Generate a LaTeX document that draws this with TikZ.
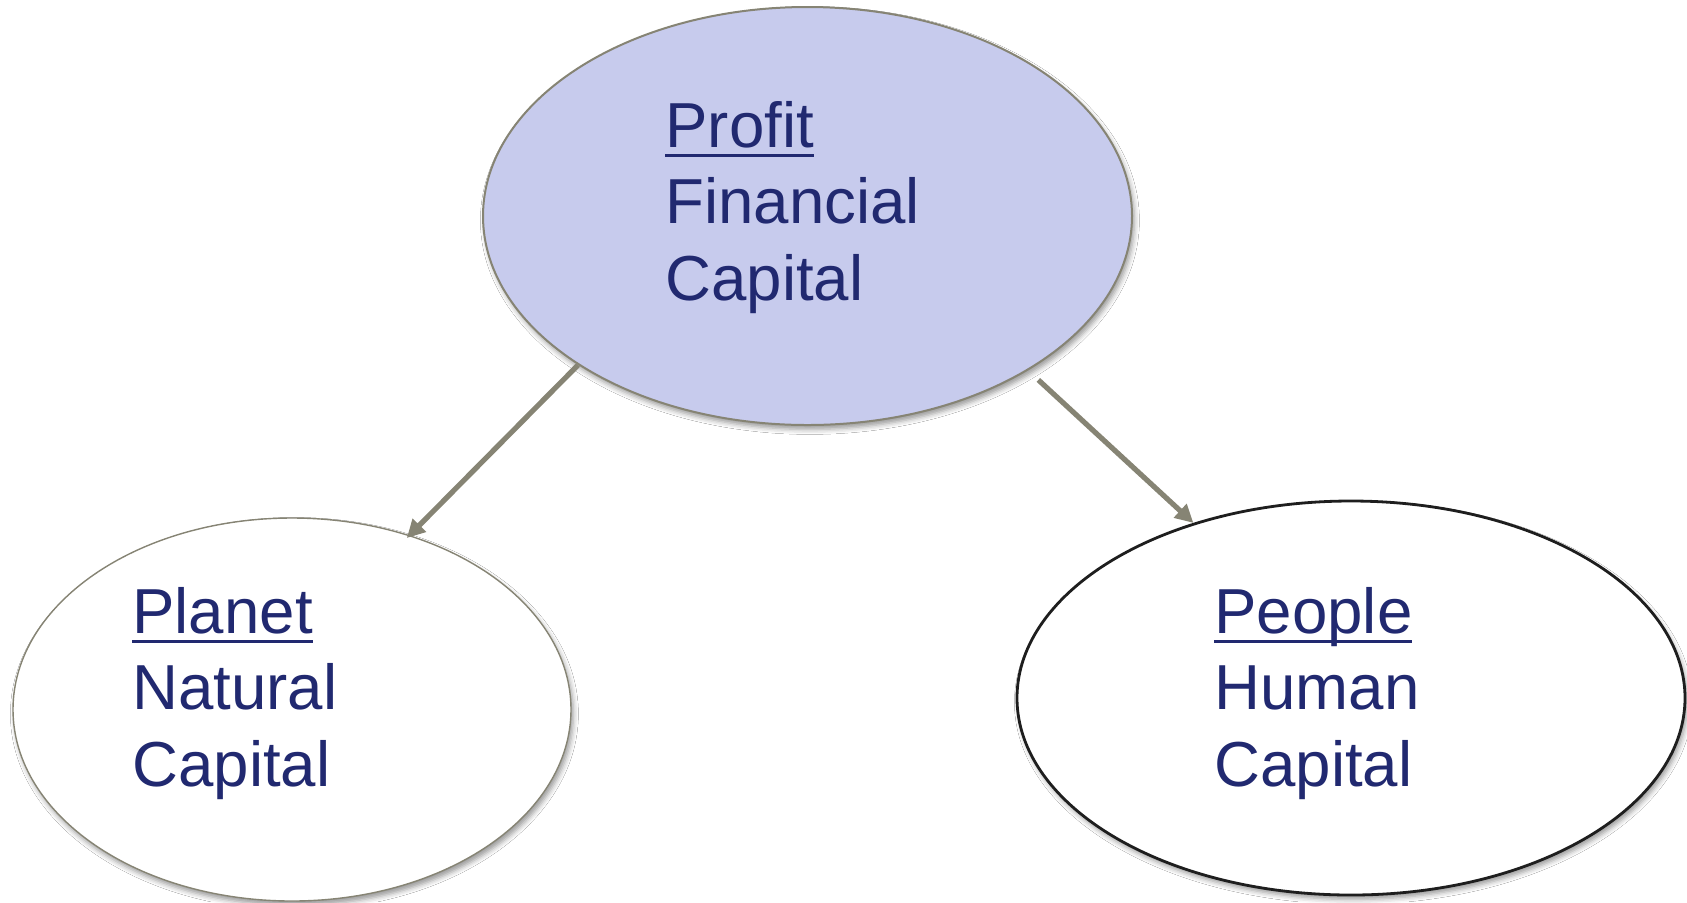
\documentclass[tikz,border=0pt]{standalone}
\usepackage{fontspec}
\setmainfont{Liberation Sans}
\usetikzlibrary{shapes.geometric,arrows.meta,shadows.blur}
\definecolor{txt}{RGB}{33,41,112}
\definecolor{pfill}{RGB}{199,203,237}
\definecolor{gline}{RGB}{134,132,116}
\definecolor{dline}{RGB}{30,30,30}
\newcommand\ulword[1]{\setbox0\hbox{#1}\rlap{\rule[-4.75pt]{\wd0}{1.5pt}}\box0}
\newcommand\threelines[3]{\vtop{\baselineskip=38.25pt\hbox{\ulword{#1}}\hbox{#2}\hbox{#3}}}
\tikzset{
  oval/.style={ellipse, inner sep=0pt, fill=white,
    blur shadow={shadow xshift=1.2pt, shadow yshift=-2.2pt, shadow blur radius=2.5pt, shadow opacity=40}},
  lbl/.style={anchor=base west, inner sep=0pt, text=txt, font=\fontsize{31.8}{38.25}\selectfont},
  conn/.style={draw=gline, line width=2.6pt, -{Triangle[length=9pt,width=9pt]}}
}
\begin{document}
\begin{tikzpicture}[x=0.5pt,y=-0.5pt]
\useasboundingbox[fill=white] (0,0) rectangle (1687,902);
\node[oval, draw=gline, line width=1pt, fill=pfill, minimum width=324.5pt, minimum height=209pt] (profit) at (807.5,216) {};
\node[oval, draw=gline, line width=0.7pt, minimum width=279pt, minimum height=191.5pt] (planet) at (292,709.5) {};
\node[oval, draw=dline, line width=1.4pt, minimum width=334pt, minimum height=197pt] (people) at (1351,698) {};
\node[lbl] (tprofit) at (665,147) {\threelines{Profit}{Financial}{Capital}};
\node[lbl] (tplanet) at (132,633) {\threelines{Planet}{Natural}{Capital}};
\node[lbl] (tpeople) at (1214,633) {\threelines{People}{Human}{Capital}};
\draw[conn, shorten >=-2pt] (profit.213) -- (planet.56);
\draw[conn, shorten <=7pt] (profit.-35) -- (people.132);
\end{tikzpicture}
\end{document}
